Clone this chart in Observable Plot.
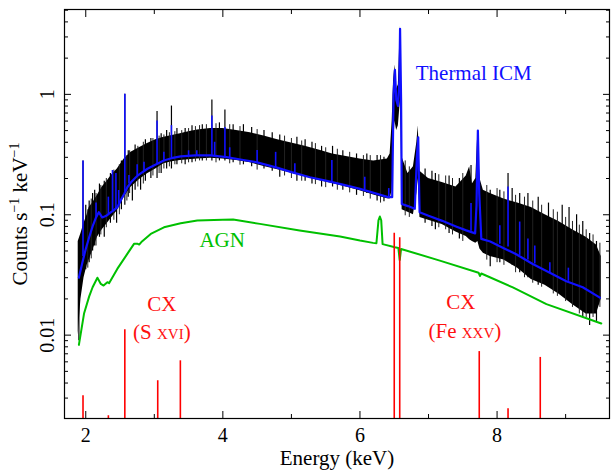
<!DOCTYPE html>
<html><head><meta charset="utf-8">
<script src="https://cdn.jsdelivr.net/npm/d3@7"></script>
<script src="https://cdn.jsdelivr.net/npm/@observablehq/plot@0.6"></script>
<style>body{margin:0;background:#fff}</style>
</head><body><div id="chart"></div><script>
// Observed spectrum band (black): energy, lower and upper envelope
const obsE  = [1.89,1.93,1.975,2.02,2.05,2.10,2.17,2.24,2.31,2.38,2.46,2.56,2.66,2.78,2.90,3.02,3.14,3.26,3.38,3.50,3.63,3.82,4.0,4.2,4.4,4.6,4.8,5.0,5.2,5.4,5.6,5.8,6.0,6.2,6.4,6.44,6.47,6.49,6.51,6.535,6.56,6.575,6.585,6.60,6.615,6.7,6.78,6.83,6.85,6.875,7.0,7.2,7.4,7.55,7.60,7.64,7.69,7.72,7.75,7.8,7.9,8.1,8.3,8.5,8.7,8.9,9.1,9.3,9.45,9.52];
const obsLo = [0.010,0.020,0.030,0.038,0.042,0.050,0.065,0.075,0.084,0.095,0.108,0.140,0.169,0.195,0.219,0.240,0.265,0.275,0.282,0.287,0.291,0.295,0.290,0.282,0.270,0.252,0.237,0.222,0.207,0.193,0.182,0.170,0.158,0.146,0.136,0.135,0.160,0.350,0.600,0.500,0.550,0.700,0.900,0.500,0.110,0.105,0.100,0.150,0.200,0.095,0.090,0.083,0.072,0.066,0.062,0.060,0.058,0.060,0.052,0.048,0.045,0.042,0.036,0.029,0.026,0.022,0.018,0.015,0.015,0.020];
const obsHi = [0.060,0.070,0.085,0.100,0.115,0.125,0.145,0.170,0.190,0.215,0.240,0.290,0.330,0.360,0.390,0.420,0.440,0.455,0.470,0.490,0.505,0.520,0.520,0.500,0.480,0.450,0.420,0.395,0.370,0.345,0.320,0.305,0.290,0.280,0.290,0.320,0.600,1.300,1.750,1.100,1.200,2.200,3.700,1.500,0.300,0.220,0.250,0.400,0.550,0.230,0.200,0.185,0.170,0.210,0.250,0.180,0.200,0.500,0.200,0.160,0.150,0.135,0.125,0.115,0.100,0.088,0.075,0.065,0.056,0.045];
// Strong noise spikes of the observed spectrum: energy, low end, high end
const spikeE  = [1.90,1.96,2.00,2.05,2.10,2.13,2.20,2.27,2.36,2.45,2.52,2.57,2.62,2.68,2.72,2.80,2.87,2.95,3.04,3.10,3.18,3.25,3.33,3.45,3.55,3.70,3.84,3.95,4.03,4.15,4.30,4.42,4.60,4.72,4.83,5.08,5.20,5.30,5.44,5.60,5.75,5.95,6.10,6.25,6.35,6.95,7.05,7.10,7.30,7.45,7.62,7.90,8.04,8.16,8.22,8.33,8.45,8.60,8.75,8.95,9.05,9.16,9.25,9.35,9.45];
const spikeLo = [0.009,0.040,0.035,0.040,0.050,0.055,0.065,0.065,0.085,0.085,0.110,0.120,0.140,0.130,0.160,0.160,0.190,0.200,0.200,0.220,0.240,0.240,0.260,0.260,0.270,0.280,0.280,0.280,0.280,0.270,0.260,0.250,0.240,0.230,0.205,0.190,0.190,0.180,0.170,0.170,0.160,0.145,0.150,0.130,0.128,0.085,0.080,0.075,0.070,0.063,0.065,0.037,0.040,0.044,0.038,0.033,0.030,0.026,0.025,0.022,0.020,0.017,0.014,0.012,0.013];
const spikeHi = [0.050,0.280,0.120,0.130,0.150,0.160,0.180,0.190,0.220,0.230,0.280,1.000,0.340,0.330,0.380,0.360,0.420,0.430,0.720,0.470,0.500,0.800,0.520,0.520,0.550,0.560,0.900,0.580,0.740,0.560,0.560,0.530,0.500,0.480,0.460,0.440,0.420,0.400,0.370,0.370,0.340,0.320,0.320,0.310,0.300,0.240,0.230,0.220,0.210,0.200,0.256,0.160,0.160,0.220,0.165,0.150,0.150,0.140,0.125,0.120,0.115,0.100,0.088,0.070,0.060];
// Fine noise jags of the observed spectrum: energy, low end, high end
const jagE  = [2.03,2.08,2.15,2.22,2.30,2.41,2.49,2.60,2.64,2.76,2.84,2.98,3.07,3.14,3.22,3.30,3.40,3.50,3.60,3.66,3.76,3.90,4.10,4.25,4.50,4.90,5.00,5.15,5.35,5.50,5.67,5.85,6.05,6.15,6.30,6.66,6.72,7.15,7.25,7.35,7.50,7.85,8.00,8.10,8.27,8.40,8.52,8.65,8.82,8.88,9.00,9.10,9.20,9.30,9.40,9.50];
const jagLo = [0.036,0.043,0.055,0.068,0.078,0.090,0.100,0.130,0.150,0.170,0.180,0.210,0.220,0.240,0.250,0.260,0.265,0.270,0.275,0.280,0.280,0.270,0.265,0.258,0.235,0.210,0.200,0.190,0.178,0.168,0.160,0.152,0.142,0.135,0.125,0.098,0.095,0.078,0.075,0.068,0.060,0.042,0.040,0.038,0.033,0.030,0.027,0.025,0.022,0.021,0.019,0.017,0.015,0.014,0.014,0.017];
const jagHi = [0.110,0.135,0.150,0.175,0.200,0.235,0.260,0.310,0.340,0.370,0.400,0.430,0.450,0.460,0.480,0.490,0.500,0.520,0.540,0.550,0.560,0.570,0.560,0.540,0.510,0.450,0.430,0.410,0.390,0.360,0.350,0.330,0.310,0.310,0.310,0.280,0.250,0.215,0.210,0.200,0.220,0.175,0.165,0.155,0.145,0.140,0.130,0.120,0.110,0.105,0.095,0.088,0.082,0.075,0.068,0.058];
// Thermal ICM model (blue)
const icmE = [1.90,1.95,2.0,2.05,2.10,2.15,2.19,2.24,2.30,2.34,2.40,2.46,2.52,2.56,2.61,2.66,2.75,2.90,3.0,3.14,3.25,3.385,3.6,3.82,3.95,4.05,4.3,4.5,4.8,5.0,5.27,5.5,5.75,6.0,6.2,6.41,6.47,6.49,6.51,6.53,6.555,6.575,6.585,6.60,6.61,6.70,6.80,6.83,6.85,6.86,6.87,7.0,7.2,7.4,7.55,7.68,7.70,7.72,7.74,7.77,7.9,8.09,8.28,8.52,8.77,9.01,9.25,9.50];
const icmV = [0.030,0.040,0.052,0.065,0.080,0.095,0.105,0.095,0.098,0.102,0.108,0.115,0.135,0.149,0.170,0.186,0.210,0.241,0.258,0.282,0.295,0.305,0.311,0.311,0.306,0.301,0.285,0.272,0.245,0.226,0.205,0.192,0.178,0.164,0.152,0.140,0.140,1.000,1.600,0.900,0.800,1.300,3.500,0.900,0.123,0.118,0.112,0.300,0.440,0.200,0.105,0.098,0.089,0.080,0.0742,0.070,0.120,0.500,0.150,0.063,0.060,0.053,0.047,0.039,0.033,0.028,0.025,0.0205];
// Narrow ICM emission lines (blue): energy, continuum, peak
const icmLineE    = [1.96,2.15,2.33,2.39,2.44,2.48,2.57,2.63,2.75,2.85,3.04,3.14,3.25,3.50,3.62,3.84,3.88,4.03,4.10,4.50,4.77,5.05,5.59,6.07,6.42,7.62,8.04,8.16,8.33,8.45,8.55,8.77,9.04];
const icmLineBase = [0.045,0.095,0.100,0.108,0.112,0.118,0.150,0.180,0.210,0.230,0.260,0.282,0.295,0.308,0.311,0.311,0.310,0.300,0.298,0.272,0.243,0.222,0.185,0.162,0.140,0.073,0.057,0.054,0.046,0.042,0.039,0.033,0.028];
const icmLinePeak = [0.280,0.125,0.140,0.233,0.220,0.159,1.000,0.212,0.260,0.273,0.600,0.330,0.550,0.340,0.340,0.660,0.400,0.530,0.360,0.342,0.330,0.265,0.282,0.205,0.165,0.124,0.081,0.170,0.087,0.063,0.055,0.040,0.036];
// AGN model (green)
const agnE = [1.90,1.975,2.05,2.10,2.17,2.22,2.26,2.315,2.34,2.46,2.606,2.704,2.75,2.78,2.82,2.948,3.141,3.385,3.627,3.87,4.0,4.15,4.54,5.12,5.71,6.0,6.19,6.24,6.27,6.29,6.31,6.33,6.51,6.56,6.58,6.60,7.165,7.73,7.75,7.77,8.23,8.72,9.52];
const agnV = [0.0083,0.0151,0.021,0.025,0.030,0.0266,0.0258,0.0275,0.027,0.0355,0.0473,0.0573,0.0575,0.0565,0.060,0.0693,0.0787,0.0849,0.0895,0.0906,0.091,0.0912,0.084,0.0739,0.0659,0.061,0.0584,0.058,0.090,0.0966,0.090,0.057,0.0537,0.053,0.042,0.052,0.0416,0.033,0.031,0.0325,0.0249,0.0181,0.0125];
// Charge-exchange lines (red): energy, peak
const cxE    = [1.96,2.33,2.57,3.05,3.38,6.50,6.58,7.74,8.16,8.63];
const cxPeak = [0.00313,0.00214,0.0111,0.00418,0.00612,0.0702,0.0643,0.0073,0.00245,0.00653];
// Ticks
const xMajor = [2,4,6,8];
const xMinor = [3,5,7,9];
const yMajor = [0.01,0.1,1];
const yMinor = [];
for (const d of [0.001,0.01,0.1,1]) for (let k=2;k<=9;k++){const v=+(k*d).toPrecision(3); if (v>0.00205 && v<5.05) yMinor.push(v);}
// Annotations (ion names drawn in small capitals)
const notes = [
  {E:7.66, v:1.50, text:"Thermal ICM", color:"#1010ff"},
  {E:3.99, v:0.061, text:"AGN", color:"#00c000"},
  {E:3.11, v:0.0182, text:"CX", color:"#ff1010"},
  {E:3.11, v:0.0105, text:"(S xvi)", color:"#ff1010"},
  {E:7.47, v:0.0186, text:"CX", color:"#ff1010"},
  {E:7.53, v:0.0108, text:"(Fe xxv)", color:"#ff1010"}
];

const obs = obsE.map((E,i)=>({E, lo:obsLo[i], hi:obsHi[i]}));
const spikes = spikeE.map((E,i)=>({E, lo:spikeLo[i], hi:spikeHi[i]}));
const jags = jagE.map((E,i)=>({E, lo:jagLo[i], hi:jagHi[i]}));
const icm = icmE.map((E,i)=>({E, v:icmV[i]}));
const icmLines = icmLineE.map((E,i)=>({E, base:icmLineBase[i], peak:icmLinePeak[i]}));
const agn = agnE.map((E,i)=>({E, v:agnV[i]}));
const cx = cxE.map((E,i)=>({E, peak:cxPeak[i]}));

const BLUE="#1010ff", GREEN="#00c000", RED="#ff0000";
const font = "Liberation Serif";

const plot = Plot.plot({
  width:611, height:470,
  marginLeft:64, marginRight:2, marginTop:9, marginBottom:52,
  style:"background:white;color:black;font-size:20px",
  x:{domain:[1.69,9.64]},
  y:{type:"log", domain:[0.00203,5.07]},
  marks:[
    Plot.areaY(obs, {x:"E", y1:"lo", y2:"hi", fill:"black"}),
    Plot.ruleX(jags, {x:"E", y1:"lo", y2:"hi", stroke:"#222", strokeWidth:1}),
    Plot.ruleX(spikes, {x:"E", y1:"lo", y2:"hi", stroke:"black", strokeWidth:1.2}),
    Plot.line(icm, {x:"E", y:"v", stroke:BLUE, strokeWidth:2.2}),
    Plot.ruleX(icmLines, {x:"E", y1:"base", y2:"peak", stroke:BLUE, strokeWidth:1.6}),
    Plot.line(agn, {x:"E", y:"v", stroke:GREEN, strokeWidth:2}),
    Plot.ruleX(cx, {x:"E", y1:()=>1e-4, y2:"peak", stroke:RED, strokeWidth:1.6, clip:true}),
    Plot.text(notes, {x:"E", y:"v", text:"text", fill:"color", fontSize:21}),
    Plot.frame({stroke:"black", strokeWidth:1.2}),
    // inward ticks on all four sides
    Plot.axisX(xMajor, {anchor:"bottom", tickSize:7, dy:-7, fill:"none", label:null}),
    Plot.axisX(xMinor, {anchor:"bottom", tickSize:4, dy:-4, fill:"none", label:null}),
    Plot.axisX(xMajor, {anchor:"top", tickSize:7, dy:7, fill:"none", label:null}),
    Plot.axisX(xMinor, {anchor:"top", tickSize:4, dy:4, fill:"none", label:null}),
    Plot.axisY(yMajor, {anchor:"left", tickSize:7, dx:7, fill:"none", label:null}),
    Plot.axisY(yMinor, {anchor:"left", tickSize:4, dx:4, fill:"none", label:null}),
    Plot.axisY(yMajor, {anchor:"right", tickSize:7, dx:-7, fill:"none", label:null}),
    Plot.axisY(yMinor, {anchor:"right", tickSize:4, dx:-4, fill:"none", label:null}),
    // tick labels
    Plot.axisX(xMajor, {anchor:"bottom", tickSize:0, tickPadding:9, fontSize:20, label:null, tickFormat:d=>String(d)}),
    Plot.axisY(yMajor, {anchor:"left", tickSize:0, tickPadding:11, tickRotate:-90, fontSize:20, label:null, tickFormat:d=>String(d)})
  ]
});
document.getElementById("chart").appendChild(plot);

const svg = d3.select(plot);
svg.attr("font-family", font);
// small capitals for ion stages
svg.selectAll("text").each(function(){
  const m = /^\((\w+) (x\w*)\)$/.exec(this.textContent);
  if (!m) return;
  const t = d3.select(this); t.text(null);
  t.append("tspan").text("(" + m[1] + " ");
  t.append("tspan").attr("font-size",15).text(m[2].toUpperCase());
  t.append("tspan").text(")");
});
svg.append("text").attr("x",337).attr("y",465).attr("text-anchor","middle")
  .attr("font-size",21).attr("fill","black").text("Energy (keV)");
const yl = svg.append("text").attr("transform","translate(27,214) rotate(-90)").attr("text-anchor","middle")
  .attr("font-size",21).attr("fill","black");
yl.append("tspan").text("Counts s");
yl.append("tspan").attr("dy",-8).attr("font-size",14).text("\u22121");
yl.append("tspan").attr("dy",8).text(" keV");
yl.append("tspan").attr("dy",-8).attr("font-size",14).text("\u22121");
svg.selectAll("text, tspan").attr("font-family", font).style("font-family", font);
</script></body></html>
